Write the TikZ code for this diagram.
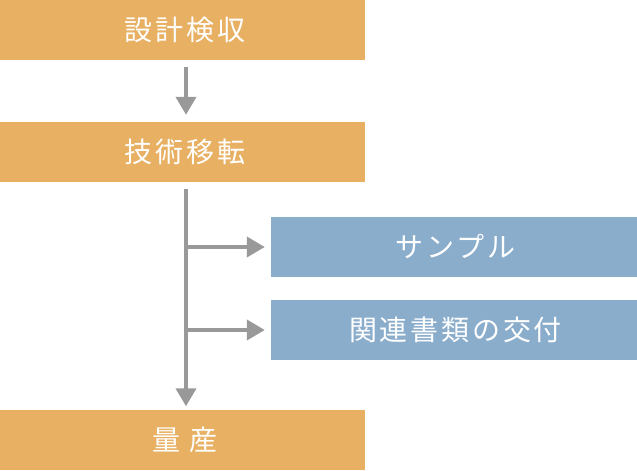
\documentclass[tikz,border=0pt]{standalone}
\usepackage{fontspec}
\usepackage{tikz}
\usetikzlibrary{arrows.meta, positioning}
\newfontfamily\jpfont[LetterSpace=10]{Noto Sans CJK JP}
\definecolor{myorange}{RGB}{232,176,98}
\definecolor{myblue}{RGB}{139,173,204}
\definecolor{mygray}{RGB}{153,153,153}
\tikzset{
  stepbox/.style={rectangle, fill=myorange, text=white,
    minimum width=365pt, minimum height=60pt, inner sep=0pt,
    font=\jpfont\fontsize{28}{28}\selectfont},
  itembox/.style={rectangle, fill=myblue, text=white,
    minimum width=366pt, minimum height=60pt, inner sep=0pt,
    font=\jpfont\fontsize{28}{28}\selectfont},
  flow/.style={-{Triangle[width=20pt,length=18pt]}, line width=4pt, color=mygray}
}

\begin{document}
\begin{tikzpicture}[x=1pt, y=-1pt]
  \useasboundingbox (0,0) rectangle (637,471);
  % main steps
  \node[stepbox] (design) at (182.5,30) {\hspace{5pt}設計検収};
  \node[stepbox] (transfer) at (182.5,152) {\hspace{5pt}技術移転};
  \node[stepbox] (massprod) at (182.5,439.5) {\hspace{5pt}量 産};
  % deliverables
  \node[itembox] (sample) at (454,247) {\hspace{3pt}サンプル};
  \node[itembox] (docs) at (454,330) {\hspace{3pt}関連書類の交付};
  \coordinate (spine) at (186,0);
  \draw[flow, shorten <=7pt, shorten >=7pt] (design.south -| spine) -- (transfer.north -| spine);
  \draw[flow, shorten <=7pt, shorten >=3pt] (transfer.south -| spine) -- (massprod.north -| spine);
  \foreach \item in {sample,docs} {
    \draw[flow, shorten >=6pt] (\item.west -| spine) -- (\item.west);
  }
\end{tikzpicture}
\end{document}
